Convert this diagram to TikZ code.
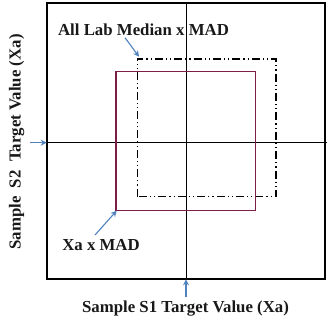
\documentclass[tikz,border=0pt]{standalone}
\usepackage{fontspec}
\setmainfont{Liberation Serif}
\usetikzlibrary{arrows.meta}
\definecolor{maroon}{RGB}{125,30,72}
\definecolor{arrowblue}{RGB}{79,129,189}
\tikzset{
  lbl/.style={font=\fontsize{16.8}{20}\selectfont\bfseries, inner sep=0pt, text=black!90},
  ptr/.style={draw=arrowblue, line width=1.1pt, -{Stealth[length=6pt,width=6pt]}},
  frame/.style={draw=black, line width=1.8pt},
  axisline/.style={draw=black, line width=0.8pt},
  xabox/.style={draw=maroon, line width=1.5pt},
  labbox/.style={draw=black, line width=1.4pt, dash pattern=on 8pt off 3pt on 1.2pt off 3pt on 1.2pt off 3pt},
}
\begin{document}
\begin{tikzpicture}[x=1pt,y=1pt]
\useasboundingbox (0,0) rectangle (332,324);
% outer frame
\draw[frame] (46.7,44.7) rectangle (325,320.7);
% axes
\coordinate (vt) at (186,320.7);
\coordinate (vb) at (186,44.7);
\coordinate (hl) at (46.7,181.3);
\coordinate (hr) at (327,181.3);
\draw[axisline] (vt) -- (vb);
\draw[axisline] (hl) -- (hr);
% boxes
\draw[labbox] (137.3,127.3) rectangle (276,265);
\draw[xabox] (116,113.3) rectangle (255.7,252.3);
\coordinate (labcorner) at (139,267.3);
\coordinate (xacorner) at (116.7,113.3);
% labels
\node[lbl] (lab) at (143.5,294.7) {All Lab Median x MAD};
\node[lbl] (xa) at (101,79) {Xa x MAD};
\node[lbl, rotate=90] (ylab) at (16.7,182) {Sample\ \ S2\ \ Target Value (Xa)};
\node[lbl] (xlab) at (185.5,15.7) {Sample S1 Target Value (Xa)};
% pointers
\coordinate (ls) at (125,286.3);
\coordinate (xs) at (95,89);
\coordinate (la) at (30,181.3);
\coordinate (ba) at (186,27);
\draw[ptr] (ls) -- (labcorner);
\draw[ptr] (xs) -- (xacorner);
\draw[ptr] (la) -- (hl);
\draw[ptr] (ba) -- (vb);
\end{tikzpicture}
\end{document}
